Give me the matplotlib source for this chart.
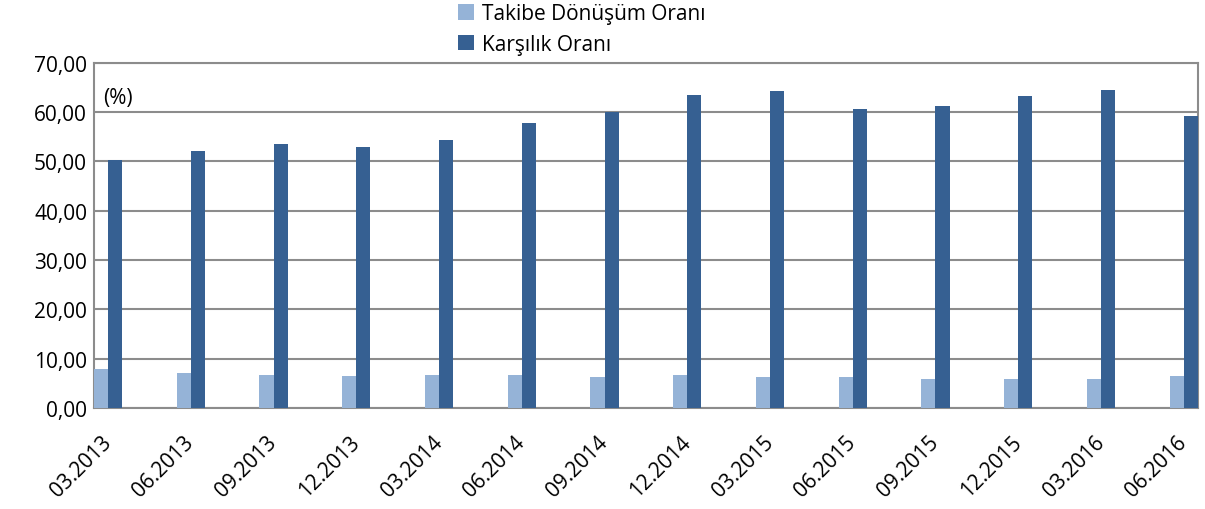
import numpy as np
import matplotlib.pyplot as plt

plt.rcParams['font.family'] = ['Open Sans', 'DejaVu Sans']

donemler = ['03.2013', '06.2013', '09.2013', '12.2013', '03.2014', '06.2014', '09.2014',
            '12.2014', '03.2015', '06.2015', '09.2015', '12.2015', '03.2016', '06.2016']
takibe_donusum = [7.9, 7.2, 6.7, 6.5, 6.7, 6.7, 6.3, 6.7, 6.3, 6.3, 5.9, 5.9, 5.9, 6.4]
karsilik = [50.3, 52.1, 53.5, 52.9, 54.4, 57.8, 60.0, 63.5, 64.3, 60.6, 61.3, 63.3, 64.5, 59.2]

fig = plt.figure(figsize=(12.05, 5.1), dpi=100)
ax = fig.add_axes([0.078, 0.198, 0.916, 0.677])

x = np.arange(len(donemler))
w = 0.17
ax.bar(x - w / 2, takibe_donusum, w, color='#95B3D7', label='Takibe Dönüşüm Oranı', zorder=3)
ax.bar(x + w / 2, karsilik, w, color='#366092', label='Karşılık Oranı', zorder=3)

ax.set_xlim(-w, len(donemler) - 1 + w)
ax.set_ylim(0, 70)
ax.set_yticks(np.arange(0, 71, 10))
ax.set_yticklabels([f'{v:.2f}'.replace('.', ',') for v in np.arange(0, 71, 10)], fontsize=15)
ax.set_xticks(x)
ax.set_xticklabels(donemler, rotation=45, ha='right', va='center', rotation_mode='anchor',
                   fontsize=15)
ax.tick_params(axis='y', length=0, pad=5)
ax.tick_params(axis='x', length=0, pad=22)
ax.grid(axis='y', color='#8c8c8c', linewidth=1.5, zorder=0)
for s in ax.spines.values():
    s.set_color('#8c8c8c')
    s.set_linewidth(1.5)

ax.text(0.008, 0.9, '(%)', transform=ax.transAxes, fontsize=15, va='center')

fig.legend(loc='upper left', bbox_to_anchor=(0.377, 1.0), ncol=1, frameon=False,
           fontsize=15, handlelength=0.75, handleheight=0.75, handletextpad=0.4,
           labelspacing=0.45, borderaxespad=0.0, borderpad=0.2)

fig.savefig('out.png', dpi=100)
